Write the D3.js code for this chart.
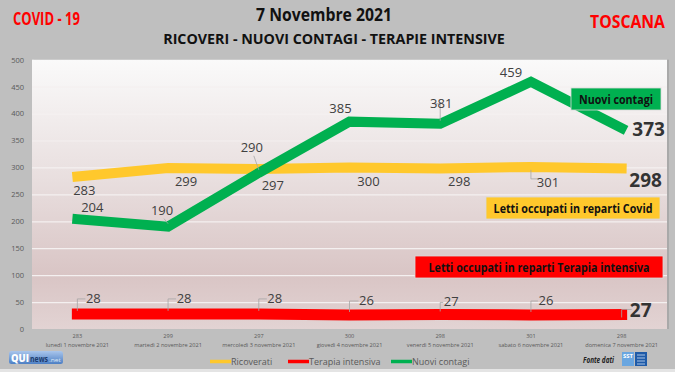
<!DOCTYPE html>
<html>
<head>
<meta charset="utf-8">
<script src="https://cdn.jsdelivr.net/npm/d3@7"></script>
<style>
  html, body { margin: 0; padding: 0; background: #bfbfbf; }
  svg { display: block; font-family: "Open Sans", sans-serif; }
</style>
</head>
<body>
<div id="chart"></div>
<script>
// data
const days = ["lunedì 1 novembre 2021", "martedì 2 novembre 2021", "mercoledì 3 novembre 2021",
  "giovedì 4 novembre 2021", "venerdì 5 novembre 2021", "sabato 6 novembre 2021", "domenica 7 novembre 2021"];
const ricoverati = [283, 299, 297, 300, 298, 301, 298];
const terapia = [28, 28, 28, 26, 27, 26, 27];
const contagi = [204, 190, 290, 385, 381, 459, 373];
const yTicks = [0, 50, 100, 150, 200, 250, 300, 350, 400, 450, 500];

const W = 675, H = 372;
const plot = { left: 32, right: 667, top: 59.7, bottom: 329 };
const C = { yellow: "#ffc82c", red: "#ff0000", green: "#00b050", label: "#404040", axis: "#595959" };

const svg = d3.select("#chart").append("svg").attr("width", W).attr("height", H);

/* text fitted horizontally to a given width (Calibri is narrower than what we have) */
function fitText(x, y, txt, size, weight, color, anchor, width, extra) {
  const g = svg.append("g");
  const t = g.append("text").attr("x", 0).attr("y", 0).attr("text-anchor", anchor)
    .attr("font-size", size).attr("font-weight", weight).attr("fill", color).text(txt);
  if (extra) extra(t);
  const natural = t.node().getComputedTextLength();
  const k = width / natural;
  g.attr("transform", `translate(${x},${y}) scale(${k},1)`);
  return t;
}

const defs = svg.append("defs");
const grad = defs.append("linearGradient").attr("id", "bg").attr("x1", 0).attr("y1", 0).attr("x2", 0).attr("y2", 1);
grad.append("stop").attr("offset", "0%").attr("stop-color", "#fafafa");
grad.append("stop").attr("offset", "45%").attr("stop-color", "#e8dede");
grad.append("stop").attr("offset", "80%").attr("stop-color", "#d9c5c5");
grad.append("stop").attr("offset", "100%").attr("stop-color", "#e2d3d3");

svg.append("rect").attr("width", W).attr("height", H).attr("fill", "#bfbfbf");
svg.append("rect").attr("x", 0).attr("y", 369).attr("width", W).attr("height", 3).attr("fill", "#e4e4e4");

/* titles */
fitText(13, 25, "COVID - 19", "17px", 700, "#ff0000", "start", 67);
fitText(324, 21, "7 Novembre 2021", "17px", 700, "#111", "middle", 136);
fitText(334, 44, "RICOVERI - NUOVI CONTAGI - TERAPIE INTENSIVE", "14px", 700, "#111", "middle", 342);
fitText(665, 28, "TOSCANA", "17px", 700, "#ff0000", "end", 75);

/* scales */
const x = d3.scaleBand().domain(days).range([plot.left, plot.right]);
const cx = d => x(d) + x.bandwidth() / 2;
const y = d3.scaleLinear().domain([0, 500]).range([plot.bottom, plot.top]);

/* plot area */
svg.append("rect").attr("x", plot.left + 2).attr("y", plot.top).attr("width", plot.right - plot.left)
  .attr("height", plot.bottom - plot.top).attr("fill", "#a9a9a9");
svg.append("rect").attr("x", plot.left).attr("y", plot.top).attr("width", plot.right - plot.left)
  .attr("height", plot.bottom - plot.top).attr("fill", "url(#bg)");

/* gridlines */
svg.append("g").attr("transform", `translate(${plot.left},0)`)
  .call(d3.axisLeft(y).tickValues(yTicks.slice(1, -1)).tickSize(-(plot.right - plot.left)).tickFormat(""))
  .call(g => g.select(".domain").remove())
  .call(g => g.selectAll("line").attr("stroke", "#f4f0f0").attr("stroke-width", 1.2));

/* y axis labels */
svg.append("g").attr("transform", `translate(${plot.left - 8},0)`)
  .call(d3.axisLeft(y).tickValues(yTicks).tickSize(0).tickPadding(0))
  .call(g => g.select(".domain").remove())
  .call(g => g.selectAll("text").attr("fill", C.axis).attr("font-size", "7.5px")
    .attr("font-family", "Open Sans, sans-serif"));

/* x axis labels: ricoverati value + date */
const xa = svg.append("g").attr("transform", `translate(0,${plot.bottom})`)
  .call(d3.axisBottom(x).tickSize(0).tickFormat(""))
  .call(g => g.select(".domain").remove());
xa.selectAll(".tick text").remove();
xa.selectAll(".tick").each(function (d, i) {
  const t = d3.select(this).append("text").attr("fill", C.axis).attr("font-size", "5.6px")
    .attr("text-anchor", "middle").attr("font-family", "Open Sans, sans-serif");
  t.append("tspan").attr("x", 0).attr("y", 9).text(ricoverati[i]);
  t.append("tspan").attr("x", 0).attr("y", 17.5).text(days[i]);
});

/* lines */
const line = vals => d3.line().x((d, i) => cx(days[i])).y(d => y(d))(vals);
function drawLine(vals, color, w) {
  svg.append("path").attr("d", line(vals)).attr("fill", "none").attr("stroke", color)
    .attr("stroke-width", w).attr("stroke-linejoin", "miter").attr("stroke-linecap", "square");
}
drawLine(ricoverati, C.yellow, 10);
drawLine(terapia, C.red, 11);
drawLine(contagi, C.green, 10);

/* data labels: [dx, dy, leader] relative to each point */
const yellowPos = [[7, 18], [18, 18], [14, 21], [19, 19], [19, 18], [17, 20, 1], [24, 19]];
const greenPos = [[15, -7], [-6, -12, 1], [-7, -21, 1], [-9, -9], [1, -16, 1], [-20, -5], [27, 8]];
const redPos = [[16, -11, 1], [16, -11, 1], [16, -11, 1], [17, -10, 1], [11, -8, 1], [15, -10, 1], [19, 3, 1]];

function labels(vals, pos, lastBig) {
  vals.forEach((v, i) => {
    const px = cx(days[i]), py = y(v);
    const [dx, dy, lead] = pos[i];
    const big = lastBig && i === vals.length - 1;
    if (lead) {
      const lx = px + dx, ly = py + dy;
      const pts = dy < 0
        ? [[px, py - 3], [px, ly - 4], [lx - (big ? 11 : 8), ly - 4]]
        : [[px, py + 3], [px, ly - 8], [lx - 9, ly - 8]];
      if (dx < 0) pts.splice(1, 2, [lx + 2, ly + 4]);
      svg.append("polyline").attr("points", pts.join(" ")).attr("fill", "none")
        .attr("stroke", "#a6a6a6").attr("stroke-width", 0.8);
    }
    svg.append("text").attr("x", px + dx).attr("y", py + dy).attr("text-anchor", "middle")
      .attr("font-size", big ? "19px" : "13px").attr("font-weight", big ? 700 : 400)
      .attr("fill", big ? "#333" : C.label).text(v);
  });
}
labels(ricoverati, yellowPos, true);
labels(contagi, greenPos, true);
labels(terapia, redPos, true);

/* series name boxes */
function box(x0, y0, w, h, fill, txt, len) {
  svg.append("rect").attr("x", x0).attr("y", y0).attr("width", w).attr("height", h)
    .attr("fill", fill).attr("stroke", "#d9d9d9").attr("stroke-width", 0.8);
  fitText(x0 + w / 2, y0 + h / 2 + 4.5, txt, "12.5px", 700, "#111", "middle", len);
}
box(571, 88, 90, 22, C.green, "Nuovi contagi", 74);
box(486, 197, 174, 22, C.yellow, "Letti occupati in reparti Covid", 159);
box(415, 256, 248, 22, C.red, "Letti occupati in reparti Terapia intensiva", 221);

/* legend */
const legend = [["Ricoverati", C.yellow, 210], ["Terapia intensiva", C.red, 288], ["Nuovi contagi", C.green, 391]];
legend.forEach(([name, col, lx]) => {
  svg.append("line").attr("x1", lx).attr("x2", lx + 21).attr("y1", 361.5).attr("y2", 361.5)
    .attr("stroke", col).attr("stroke-width", 3.5);
  svg.append("text").attr("x", lx + 21).attr("y", 364.5).attr("font-size", "9px")
    .attr("fill", C.axis).text(name);
});

/* QUInews logo */
const qg = defs.append("linearGradient").attr("id", "qui").attr("x1", 0).attr("y1", 0).attr("x2", 0).attr("y2", 1);
qg.append("stop").attr("offset", "0%").attr("stop-color", "#a9c6ec");
qg.append("stop").attr("offset", "100%").attr("stop-color", "#4d7fc4");
svg.append("rect").attr("x", 9).attr("y", 351).attr("width", 54).attr("height", 13).attr("rx", 2.5)
  .attr("fill", "url(#qui)");
fitText(11, 362, "QUI", "11px", 800, "#fff", "start", 18);
fitText(30, 361.5, "news", "8.5px", 700, "#1d3c6e", "start", 18);
fitText(49, 361.5, ".net", "6px", 400, "#dde8f6", "start", 12);

/* Fonte dati + SST logo */
fitText(583, 363, "Fonte dati", "8px", 700, "#222", "start", 31, t => t.attr("font-style", "italic"));
svg.append("rect").attr("x", 622).attr("y", 352).attr("width", 12).attr("height", 14).attr("fill", "#6aa6e0");
fitText(628, 358, "SST", "5px", 700, "#fff", "middle", 10);
svg.append("rect").attr("x", 635).attr("y", 352).attr("width", 12).attr("height", 14).attr("fill", "#1f5ba8");
[355, 358, 361, 364].forEach(ty => svg.append("line").attr("x1", 637).attr("x2", 645)
  .attr("y1", ty).attr("y2", ty).attr("stroke", "#cfe0f5").attr("stroke-width", 0.8));
</script>
</body>
</html>
